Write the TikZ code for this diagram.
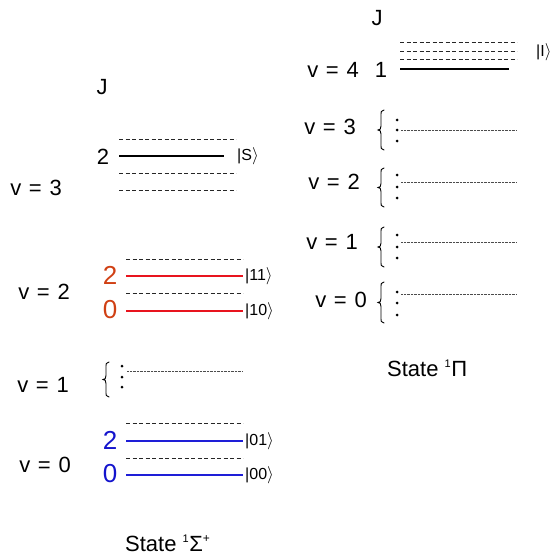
\documentclass[tikz,border=0pt]{standalone}
\usepackage{fontspec}
\setmainfont{Liberation Sans}
\definecolor{levred}{RGB}{232,20,30}
\definecolor{numred}{RGB}{208,64,20}
\definecolor{levblue}{RGB}{30,30,215}
\definecolor{numblue}{RGB}{20,20,205}
\newcommand{\vlab}[1]{v\hspace{0.35em}=\hspace{0.35em}#1}
\newcommand{\supone}{\raisebox{0.42em}{\fontsize{11}{11}\selectfont 1}}
% thin curly brace opening to the right: x of the tips, top y, bottom y
\newcommand{\levbrace}[3]{%
  \draw[brc] (#1,#2) .. controls (#1-3,#2) and (#1-3,#2+2) .. (#1-3,#2+6)
    -- (#1-3,{(#2+#3)/2-4}) .. controls (#1-3,{(#2+#3)/2-1}) and (#1-4,{(#2+#3)/2}) .. (#1-6,{(#2+#3)/2})
    .. controls (#1-4,{(#2+#3)/2}) and (#1-3,{(#2+#3)/2+1}) .. (#1-3,{(#2+#3)/2+4})
    -- (#1-3,#3-6) .. controls (#1-3,#3-2) and (#1-3,#3) .. (#1,#3);}
\begin{document}
\begin{tikzpicture}[x=1pt,y=-1pt,
  lbl/.style={inner sep=0pt, font=\fontsize{22}{26}\selectfont},
  jnum/.style={inner sep=0pt, font=\fontsize{26}{30}\selectfont},
  ket/.style={inner sep=0pt, anchor=west, font=\fontsize{16}{18}\selectfont},
  level/.style={line width=1.7pt},
  sublevel/.style={dash pattern=on 4pt off 2.5pt, line width=1pt, black!85},
  band/.style={dash pattern=on 0.6pt off 0.8pt, line width=0.7pt, black!70},
  brc/.style={line width=0.9pt, line cap=round},
  dot/.style={circle, fill=black, inner sep=0pt, minimum size=3pt}]
\useasboundingbox (0,0) rectangle (556,559);

% ---------------- left: state 1Sigma+ ----------------
\node[lbl] (jL) at (102,87) {J};

% v = 3
\node[lbl] (v3L) at (36,188) {\vlab{3}};
\node[lbl] (j3L) at (103,157) {2};
\draw[sublevel] (119,139) -- (236,139);
\draw[level] (119,156) -- (224,156);
\draw[sublevel] (119,173) -- (236,173);
\draw[sublevel] (119,190) -- (236,190);
\node[ket] (ketS) at (237,156) {{|}S$\rangle$};

% v = 2
\node[lbl] (v2L) at (44,292) {\vlab{2}};
\node[jnum, numred] (j22) at (110,275) {2};
\node[jnum, numred] (j20) at (110,310) {0};
\draw[sublevel] (126,259) -- (243,259);
\draw[level, levred] (126,276) -- (243,276);
\draw[sublevel] (126,293) -- (243,293);
\draw[level, levred] (126,311) -- (243,311);
\node[ket] (ket11) at (245,276) {{|}11$\rangle$};
\node[ket] (ket10) at (245,311) {{|}10$\rangle$};

% v = 1
\node[lbl] (v1L) at (43,385) {\vlab{1}};
\levbrace{109}{362}{397}
\node[dot] (d1a) at (122,366) {};
\node[dot] (d1b) at (122,377) {};
\node[dot] (d1c) at (122,387) {};
\draw[band] (127,371) -- (243,371);

% v = 0
\node[lbl] (v0L) at (45,465) {\vlab{0}};
\node[jnum, numblue] (j02) at (110,440) {2};
\node[jnum, numblue] (j00) at (110,474) {0};
\draw[sublevel] (126,423) -- (243,423);
\draw[level, levblue] (126,441) -- (243,441);
\draw[sublevel] (126,458) -- (243,458);
\draw[level, levblue] (126,475) -- (243,475);
\node[ket] (ket01) at (245,441) {{|}01$\rangle$};
\node[ket] (ket00) at (245,475) {{|}00$\rangle$};

\node[lbl, anchor=west] (stateS) at (125,543) {State \supone\kern0.5ptΣ\raisebox{0.4em}{\fontsize{12}{12}\selectfont +}};

% ---------------- right: state 1Pi ----------------
\node[lbl] (jR) at (377,18) {J};

% v = 4
\node[lbl] (v4R) at (333,70) {\vlab{4}};
\node[lbl] (j4R) at (381,70) {1};
\draw[sublevel] (400,43) -- (517,43);
\draw[sublevel] (400,52) -- (517,52);
\draw[sublevel] (400,60) -- (517,60);
\draw[level] (400,69) -- (509,69);
\node[ket] (ketI) at (536,52) {{|}I$\rangle$};

% v = 3 .. 0 bands: label, brace, three dots, dotted band line
\foreach \v/\tx/\ty/\top/\bot/\da/\db/\dc/\ly in {
    3/330/127/110/150/120/130/141/130,
    2/334/182/168/207/175/187/198/182,
    1/332/242/227/267/235/247/258/242,
    0/341/300/282/323/292/303/315/294}{
  \node[lbl] (vR\v) at (\tx,\ty) {\vlab{\v}};
  \levbrace{384}{\top}{\bot}
  \node[dot] (dR\v a) at (397,\da) {};
  \node[dot] (dR\v b) at (397,\db) {};
  \node[dot] (dR\v c) at (397,\dc) {};
  \draw[band] (401,\ly) -- (517,\ly);
}

\node[lbl, anchor=west] (stateP) at (387,368) {State \supone\kern0.5ptΠ};
\end{tikzpicture}
\end{document}
